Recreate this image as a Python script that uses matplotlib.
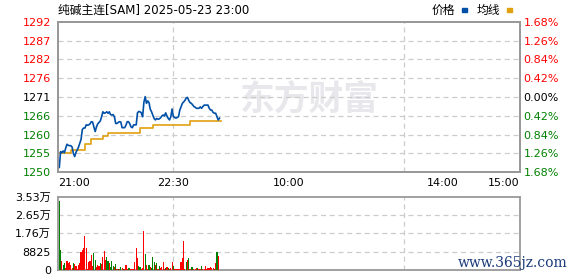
import matplotlib
matplotlib.use("Agg")
import matplotlib.pyplot as plt
from matplotlib.patches import Rectangle

plt.rcParams['font.family'] = ['DejaVu Sans', 'Noto Sans CJK SC']

# 分时数据 (21:00 起每分钟)
price = [1251.0, 1251.0, 1255.5, 1255.2, 1255.7, 1255.2, 1256.5, 1257.6, 1257.3, 1257.2,
         1257.2, 1256.8, 1255.0, 1254.1, 1255.3, 1256.0, 1256.8, 1257.9, 1259.0, 1261.8,
         1262.2, 1262.2, 1263.1, 1263.0, 1263.1, 1263.4, 1264.0, 1263.9, 1262.5, 1261.2,
         1262.5, 1263.4, 1263.8, 1264.2, 1265.4, 1266.8, 1266.4, 1266.5, 1266.8, 1266.4,
         1266.8, 1266.0, 1265.9, 1266.0, 1265.4, 1263.5, 1263.5, 1263.8, 1264.0, 1263.9,
         1262.3, 1262.3, 1262.3, 1263.0, 1264.0, 1264.0, 1263.4, 1262.5, 1262.3, 1263.1,
         1263.1, 1263.1, 1266.5, 1266.9, 1266.8, 1266.5, 1265.4, 1269.5, 1271.1, 1269.2,
         1269.9, 1269.4, 1267.5, 1266.8, 1265.8, 1264.9, 1264.5, 1264.9, 1264.7, 1264.8,
         1265.1, 1265.6, 1265.9, 1265.6, 1266.5, 1265.6, 1264.9, 1264.5, 1265.4, 1267.6,
         1265.4, 1265.2, 1265.0, 1265.2, 1265.4, 1267.3, 1268.2, 1269.2, 1269.6, 1270.0,
         1270.7, 1270.9, 1270.0, 1269.4, 1269.2, 1268.8, 1268.3, 1268.1, 1267.8, 1267.8,
         1267.8, 1268.2, 1267.8, 1268.3, 1268.7, 1268.7, 1268.7, 1268.7, 1267.8, 1267.3,
         1267.3, 1266.6, 1266.4, 1266.4, 1265.4, 1264.5, 1265.0]

avg_price = [1255.0] * 9 + [1256.0] * 11 + [1257.6] * 5 + [1259.1] * 9 + [1260.0] * 4 + \
            [1260.9] * 25 + [1262.1] * 10 + [1263.1] * 29 + [1264.2] * 25

volume = [33000, 9600, 4300, 2400, 3200, 1100, 4300, 3200, 4000, 2400,
          800, 3200, 2700, 2000, 500, 2400, 3200, 8500, 9600, 10400,
          16400, 10800, 500, 4000, 4300, 7200, 2000, 8300, 4800, 1500,
          2200, 2000, 3200, 3000, 6400, 9100, 4800, 6400, 4500, 3200,
          1500, 4300, 2100, 1600, 2900, 500, 600, 500, 1300, 800,
          500, 500, 2400, 600, 800, 1100, 400, 500, 500, 4000,
          10800, 5900, 2100, 1600, 400, 1100, 18800, 7700, 2400, 400,
          2400, 1600, 800, 6400, 4000, 2400, 3200, 500, 2100, 800,
          1600, 4000, 500, 1100, 1600, 1100, 500, 1100, 4000, 2100,
          500, 500, 500, 300, 500, 4000, 5900, 14100, 500, 4000,
          4800, 5600, 500, 1600, 1600, 500, 500, 800, 1100, 500,
          300, 2100, 500, 500, 2100, 500, 1100, 1100, 1600, 800,
          1100, 500, 3200, 8800, 6700]
# r = 上涨(红), g = 下跌(绿), 每行10根
vol_dir = ''.join([
    'ggrggrrrrr', 'rgrrrrrrrr', 'rrrrrrrggr', 'rrgrrrrggr', 'gggrgrgrgr',
    'grrrggrrrr', 'rrggrrrgrr', 'grgggrgrgr', 'rrrgrgrrrg', 'rrrrrrrrrg',
    'rgrggrrrgr', 'rgrrrrrrrr', 'rgrgr',
])

time_ticks = [0, 90, 180, 300, 360]
time_labels = ['21:00', '22:30', '10:00', '14:00', '15:00']

prev_close = 1271
pct_steps = [-4, -3, -2, -1, 0, 1, 2, 3, 4]
vol_ticks = [0, 8825, 17650, 26475, 35300]
vol_labels = ['0', '8825', '1.76万', '2.65万', '3.53万']

RED = '#ff0000'
GREEN = '#008000'
BLUE = '#0050a8'
ORANGE = '#e0a010'
GRID = '#cccccc'
BORDER = '#999999'

fig = plt.figure(figsize=(5.78, 2.76), dpi=100)
ax = fig.add_axes([58 / 578, 1 - 172.3 / 276, 461.5 / 578, 150.6 / 276])
axv = fig.add_axes([58 / 578, 1 - 270 / 276, 461.5 / 578, 73.3 / 276])

# 水印
ax.text(0.545, 0.48, '东方财富', transform=ax.transAxes, fontsize=25, fontweight='bold',
        color='#e8e8ec', ha='center', va='center', zorder=0)

x_price = list(range(len(price)))
ax.plot(x_price, price, color=BLUE, lw=1.2, zorder=3)
x_avg = list(range(1, len(avg_price) + 1))
ax.plot(x_avg, avg_price, color=ORANGE, lw=1.2, drawstyle='steps-post', zorder=2)

ymin = prev_close * (1 - 0.0168)
ymax = prev_close * (1 + 0.0168)
ax.set_xlim(0, 360)
ax.set_ylim(ymin, ymax)

levels = [prev_close * (1 + 0.0042 * k) for k in pct_steps]
ax.set_yticks(levels)
ax.set_yticklabels([f'{v:.0f}' for v in levels])
for k, lab in zip(pct_steps, ax.get_yticklabels()):
    lab.set_color(RED if k > 0 else (GREEN if k < 0 else 'black'))
for v in levels[1:-1]:
    ax.axhline(v, color=GRID, lw=0.9, ls=(0, (4, 3)), zorder=1)
for xv in (90, 270):
    ax.axvline(xv, color=GRID, lw=0.9, ls=(0, (4, 3)), zorder=1)

ax.set_xticks(time_ticks)
ax.set_xticklabels(time_labels)
xl = ax.get_xticklabels()
xl[0].set_ha('left')
xl[-1].set_ha('right')
ax.tick_params(axis='both', length=0, labelsize=8)
ax.tick_params(axis='y', pad=5)
ax.tick_params(axis='x', pad=4)

ax2 = ax.twinx()
ax2.set_ylim(ymin, ymax)
ax2.set_yticks(levels)
ax2.set_yticklabels([f'{abs(k) * 0.42:.2f}%' for k in pct_steps])
for k, lab in zip(pct_steps, ax2.get_yticklabels()):
    lab.set_color(RED if k > 0 else (GREEN if k < 0 else 'black'))
ax2.tick_params(axis='y', length=0, labelsize=8, pad=3)

for a in (ax, ax2, axv):
    for s in a.spines.values():
        s.set_color(BORDER)
        s.set_linewidth(1.3)

# 成交量
x_vol = list(range(1, len(volume) + 1))
colors = [RED if c == 'r' else GREEN for c in vol_dir]
axv.bar(x_vol, volume, width=0.9, color=colors, linewidth=0, zorder=3)
axv.set_xlim(0, 360)
axv.set_ylim(0, 35300)
axv.set_yticks(vol_ticks)
axv.set_yticklabels(vol_labels)
axv.set_xticks([])
for v in vol_ticks[1:-1]:
    axv.axhline(v, color=GRID, lw=0.9, ls=(0, (4, 3)), zorder=1)
for xv in (90, 270):
    axv.axvline(xv, color=GRID, lw=0.9, ls=(0, (4, 3)), zorder=1)
axv.tick_params(axis='y', length=0, labelsize=8, pad=5)

# 标题与图例
fig.text(58 / 578, 1 - 10 / 276, '纯碱主连[SAM] 2025-05-23 23:00', fontsize=8.5,
         ha='left', va='center')
fig.text(455 / 578, 1 - 10 / 276, '价格', fontsize=8.5, ha='right', va='center')
fig.patches.append(Rectangle((462 / 578, 1 - 11.5 / 276), 5 / 578, 3 / 276,
                             transform=fig.transFigure, color=BLUE))
fig.text(500 / 578, 1 - 10 / 276, '均线', fontsize=8.5, ha='right', va='center')
fig.patches.append(Rectangle((507 / 578, 1 - 11.5 / 276), 5 / 578, 3 / 276,
                             transform=fig.transFigure, color=ORANGE))

fig.text(568 / 578, 1 - 263 / 276, 'www.365jz.com', fontsize=10, family='DejaVu Serif',
         color='#1a3a7a', ha='right', va='center')

fig.savefig('out.png', dpi=100)
